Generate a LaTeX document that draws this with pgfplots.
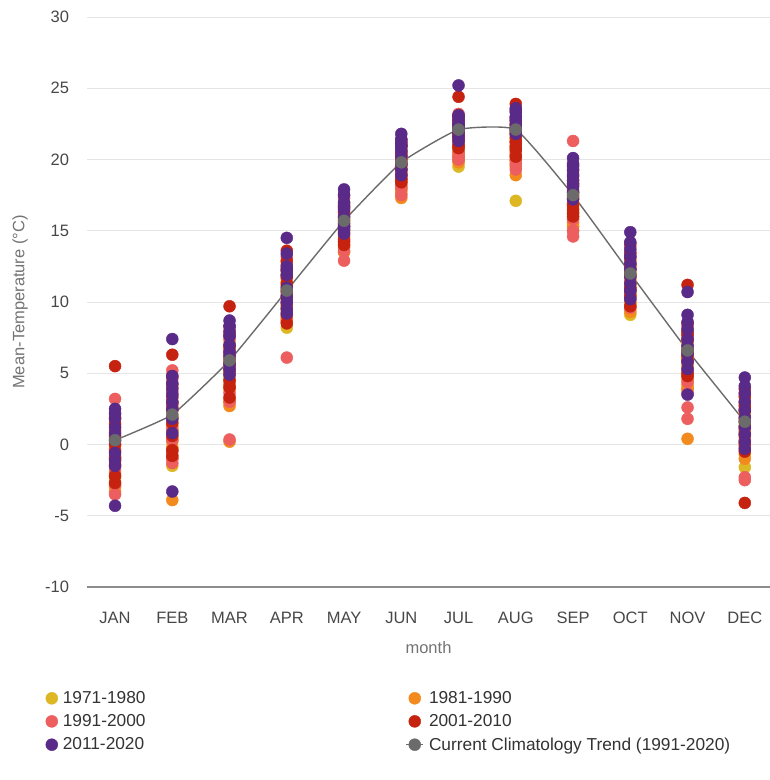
\documentclass[border=0pt]{standalone}
\usepackage{pgfplots}
\pgfplotsset{compat=1.18}
\usepackage{pgfplotstable}
\usepackage{fontspec}
\setmainfont{Liberation Sans}

\definecolor{cSeventies}{HTML}{DDB724}
\definecolor{cEighties}{HTML}{F28A1E}
\definecolor{cNineties}{HTML}{EC5F5E}
\definecolor{cTwoThousands}{HTML}{C52210}
\definecolor{cTens}{HTML}{5A2A88}
\definecolor{cTrend}{HTML}{6B6B6B}
\newcommand\chartfont{\fontsize{16.5}{19.8}\selectfont}
\newcommand\legendfont{\fontsize{17.3}{20.5}\selectfont}

% Monthly mean temperatures, one row per (month index, value); ten years per decade
\pgfplotstableread[row sep=\\]{
m t\\
0 -2.2\\ 0 -1.0\\ 0 0.5\\ 0 -3.0\\ 0 1.2\\ 0 -0.4\\ 0 -1.8\\ 0 0.9\\ 0 -2.6\\ 0 -0.1\\
1 -0.3\\ 1 1.0\\ 1 2.5\\ 1 0.2\\ 1 -1.5\\ 1 3.0\\ 1 1.6\\ 1 -0.8\\ 1 2.0\\ 1 0.6\\
2 3.0\\ 2 5.0\\ 2 6.2\\ 2 4.2\\ 2 7.0\\ 2 3.8\\ 2 5.5\\ 2 2.9\\ 2 6.6\\ 2 4.7\\
3 8.2\\ 3 9.5\\ 3 10.8\\ 3 11.6\\ 3 9.0\\ 3 12.0\\ 3 10.2\\ 3 8.8\\ 3 11.2\\ 3 9.8\\
4 13.5\\ 4 14.8\\ 4 15.6\\ 4 16.3\\ 4 14.2\\ 4 15.1\\ 4 16.8\\ 4 13.9\\ 4 15.9\\ 4 14.5\\
5 17.6\\ 5 18.5\\ 5 19.4\\ 5 20.2\\ 5 18.1\\ 5 19.0\\ 5 20.7\\ 5 18.8\\ 5 19.7\\ 5 17.9\\
6 19.5\\ 6 20.6\\ 6 21.4\\ 6 22.0\\ 6 20.0\\ 6 21.8\\ 6 22.5\\ 6 20.9\\ 6 21.2\\ 6 19.9\\
7 17.1\\ 7 20.5\\ 7 21.3\\ 7 19.6\\ 7 22.0\\ 7 20.9\\ 7 21.7\\ 7 19.9\\ 7 22.5\\ 7 20.2\\
8 15.0\\ 8 16.2\\ 8 17.0\\ 8 15.6\\ 8 18.1\\ 8 16.6\\ 8 17.5\\ 8 15.3\\ 8 16.9\\ 8 17.8\\
9 9.1\\ 9 10.3\\ 9 11.2\\ 9 12.0\\ 9 9.8\\ 9 11.6\\ 9 10.7\\ 9 12.6\\ 9 9.5\\ 9 11.0\\
10 4.0\\ 10 5.3\\ 10 6.2\\ 10 7.5\\ 10 4.8\\ 10 6.9\\ 10 5.6\\ 10 3.8\\ 10 7.1\\ 10 6.0\\
11 -1.6\\ 11 0.2\\ 11 1.0\\ 11 2.3\\ 11 -0.7\\ 11 1.5\\ 11 0.6\\ 11 2.8\\ 11 -0.2\\ 11 1.9\\
}\seventies

\pgfplotstableread[row sep=\\]{
m t\\
0 -2.9\\ 0 -1.5\\ 0 0.2\\ 0 -2.3\\ 0 1.5\\ 0 -0.8\\ 0 -3.3\\ 0 0.7\\ 0 -1.2\\ 0 1.8\\
1 -3.9\\ 1 0.4\\ 1 1.8\\ 1 3.5\\ 1 -1.0\\ 1 2.6\\ 1 0.9\\ 1 4.0\\ 1 -0.2\\ 1 1.3\\
2 0.2\\ 2 2.7\\ 2 5.8\\ 2 4.0\\ 2 6.8\\ 2 3.2\\ 2 7.3\\ 2 5.1\\ 2 4.5\\ 2 6.1\\
3 8.6\\ 3 10.4\\ 3 11.9\\ 3 9.3\\ 3 12.4\\ 3 10.9\\ 3 9.7\\ 3 11.4\\ 3 8.9\\ 3 12.8\\
4 13.5\\ 4 14.6\\ 4 15.4\\ 4 16.6\\ 4 14.0\\ 4 15.8\\ 4 17.0\\ 4 13.8\\ 4 16.1\\ 4 15.2\\
5 17.3\\ 5 18.9\\ 5 19.8\\ 5 20.6\\ 5 18.4\\ 5 21.0\\ 5 19.2\\ 5 17.8\\ 5 20.1\\ 5 18.6\\
6 19.8\\ 6 20.8\\ 6 21.6\\ 6 22.4\\ 6 21.0\\ 6 20.4\\ 6 22.8\\ 6 21.9\\ 6 20.2\\ 6 23.0\\
7 18.9\\ 7 21.0\\ 7 20.3\\ 7 22.2\\ 7 19.5\\ 7 21.6\\ 7 20.8\\ 7 22.7\\ 7 19.9\\ 7 21.3\\
8 15.3\\ 8 16.0\\ 8 17.2\\ 8 18.3\\ 8 15.8\\ 8 16.8\\ 8 17.6\\ 8 18.6\\ 8 16.4\\ 8 15.5\\
9 9.3\\ 9 10.6\\ 9 11.8\\ 9 12.9\\ 9 10.0\\ 9 11.3\\ 9 12.4\\ 9 9.9\\ 9 13.2\\ 9 10.9\\
10 0.4\\ 10 4.2\\ 10 5.5\\ 10 6.7\\ 10 7.4\\ 10 5.0\\ 10 6.3\\ 10 4.6\\ 10 8.0\\ 10 3.9\\
11 -1.0\\ 11 0.5\\ 11 1.7\\ 11 2.9\\ 11 0.0\\ 11 1.2\\ 11 3.3\\ 11 -0.4\\ 11 2.2\\ 11 0.9\\
}\eighties

\pgfplotstableread[row sep=\\]{
m t\\
0 3.2\\ 0 -3.5\\ 0 -2.0\\ 0 -1.6\\ 0 1.0\\ 0 0.4\\ 0 -1.0\\ 0 2.1\\ 0 -0.3\\ 0 -2.8\\
1 5.2\\ 1 -1.3\\ 1 -1.0\\ 1 4.6\\ 1 1.1\\ 1 2.8\\ 1 0.3\\ 1 3.7\\ 1 -0.5\\ 1 1.9\\
2 0.35\\ 2 3.6\\ 2 4.9\\ 2 7.5\\ 2 6.0\\ 2 3.0\\ 2 8.0\\ 2 5.4\\ 2 4.2\\ 2 6.7\\
3 6.1\\ 3 13.2\\ 3 12.6\\ 3 9.6\\ 3 11.1\\ 3 10.0\\ 3 8.7\\ 3 12.2\\ 3 10.5\\ 3 11.7\\
4 12.9\\ 4 14.3\\ 4 15.7\\ 4 16.9\\ 4 13.6\\ 4 15.0\\ 4 17.3\\ 4 14.7\\ 4 16.4\\ 4 15.5\\
5 17.5\\ 5 19.1\\ 5 20.4\\ 5 18.7\\ 5 21.2\\ 5 19.6\\ 5 18.2\\ 5 20.8\\ 5 19.9\\ 5 18.0\\
6 20.2\\ 6 23.2\\ 6 22.6\\ 6 21.3\\ 6 20.5\\ 6 22.0\\ 6 21.7\\ 6 20.0\\ 6 22.9\\ 6 21.1\\
7 19.3\\ 7 20.0\\ 7 21.8\\ 7 20.6\\ 7 22.4\\ 7 19.7\\ 7 21.2\\ 7 23.0\\ 7 20.4\\ 7 22.0\\
8 21.3\\ 8 14.6\\ 8 15.0\\ 8 16.3\\ 8 17.4\\ 8 18.5\\ 8 15.8\\ 8 19.0\\ 8 16.9\\ 8 17.9\\
9 9.6\\ 9 10.9\\ 9 12.2\\ 9 13.5\\ 9 11.4\\ 9 10.2\\ 9 12.8\\ 9 11.7\\ 9 13.9\\ 9 10.5\\
10 2.6\\ 10 1.8\\ 10 4.4\\ 10 5.8\\ 10 6.9\\ 10 7.7\\ 10 5.2\\ 10 8.3\\ 10 6.4\\ 10 3.6\\
11 -2.3\\ 11 -2.5\\ 11 0.3\\ 11 1.1\\ 11 2.5\\ 11 3.6\\ 11 1.8\\ 11 0.8\\ 11 3.0\\ 11 -0.1\\
}\nineties

\pgfplotstableread[row sep=\\]{
m t\\
0 5.5\\ 0 -2.7\\ 0 -1.4\\ 0 0.6\\ 0 -0.9\\ 0 1.4\\ 0 -2.2\\ 0 0.0\\ 0 1.9\\ 0 -0.5\\
1 6.3\\ 1 -0.8\\ 1 0.6\\ 1 3.3\\ 1 4.2\\ 1 2.4\\ 1 1.5\\ 1 -0.4\\ 1 2.9\\ 1 4.8\\
2 9.7\\ 2 4.5\\ 2 3.3\\ 2 6.4\\ 2 7.7\\ 2 5.2\\ 2 8.3\\ 2 4.0\\ 2 6.9\\ 2 5.7\\
3 11.8\\ 3 8.5\\ 3 9.1\\ 3 10.7\\ 3 12.9\\ 3 9.9\\ 3 11.3\\ 3 13.6\\ 3 10.3\\ 3 12.3\\
4 14.0\\ 4 14.4\\ 4 16.3\\ 4 15.3\\ 4 16.8\\ 4 14.9\\ 4 17.5\\ 4 15.9\\ 4 14.2\\ 4 16.6\\
5 18.4\\ 5 19.3\\ 5 20.5\\ 5 21.4\\ 5 18.9\\ 5 20.0\\ 5 21.0\\ 5 19.6\\ 5 18.6\\ 5 20.3\\
6 24.4\\ 6 21.0\\ 6 21.6\\ 6 22.2\\ 6 22.7\\ 6 20.8\\ 6 21.4\\ 6 23.1\\ 6 22.5\\ 6 21.8\\
7 23.9\\ 7 20.7\\ 7 21.5\\ 7 22.8\\ 7 20.2\\ 7 23.4\\ 7 21.9\\ 7 22.5\\ 7 20.9\\ 7 21.2\\
8 16.5\\ 8 16.0\\ 8 17.3\\ 8 18.2\\ 8 16.8\\ 8 19.2\\ 8 17.7\\ 8 18.8\\ 8 16.2\\ 8 19.6\\
9 9.7\\ 9 11.0\\ 9 12.3\\ 9 13.4\\ 9 10.4\\ 9 11.9\\ 9 13.1\\ 9 12.6\\ 9 14.1\\ 9 10.8\\
10 11.2\\ 10 7.7\\ 10 5.0\\ 10 7.9\\ 10 6.6\\ 10 4.8\\ 10 8.5\\ 10 5.9\\ 10 7.3\\ 10 6.2\\
11 -4.1\\ 11 -0.5\\ 11 0.7\\ 11 1.6\\ 11 2.7\\ 11 3.9\\ 11 1.3\\ 11 0.1\\ 11 2.4\\ 11 3.4\\
}\twothousands

\pgfplotstableread[row sep=\\]{
m t\\
0 -4.3\\ 0 2.5\\ 0 1.8\\ 0 1.2\\ 0 0.8\\ 0 -0.6\\ 0 -1.5\\ 0 0.3\\ 0 2.2\\ 0 -1.1\\
1 7.4\\ 1 -3.3\\ 1 0.8\\ 1 4.8\\ 1 3.9\\ 1 3.0\\ 1 2.5\\ 1 1.8\\ 1 4.3\\ 1 3.5\\
2 8.7\\ 2 8.3\\ 2 7.6\\ 2 7.0\\ 2 6.5\\ 2 5.6\\ 2 5.3\\ 2 6.2\\ 2 4.9\\ 2 7.9\\
3 14.5\\ 3 13.4\\ 3 12.5\\ 3 11.9\\ 3 11.0\\ 3 10.4\\ 3 10.0\\ 3 9.5\\ 3 12.2\\ 3 9.2\\
4 17.9\\ 4 17.5\\ 4 17.0\\ 4 16.5\\ 4 16.0\\ 4 15.5\\ 4 15.1\\ 4 14.8\\ 4 16.7\\ 4 15.3\\
5 21.8\\ 5 21.4\\ 5 21.0\\ 5 20.6\\ 5 20.2\\ 5 19.7\\ 5 19.3\\ 5 18.9\\ 5 20.9\\ 5 21.2\\
6 25.2\\ 6 23.1\\ 6 22.8\\ 6 22.5\\ 6 22.2\\ 6 21.9\\ 6 21.6\\ 6 21.3\\ 6 23.0\\ 6 22.4\\
7 23.6\\ 7 23.3\\ 7 23.0\\ 7 22.7\\ 7 22.4\\ 7 22.1\\ 7 21.8\\ 7 23.5\\ 7 22.9\\ 7 22.2\\
8 20.1\\ 8 19.7\\ 8 19.3\\ 8 18.9\\ 8 18.5\\ 8 18.1\\ 8 17.7\\ 8 17.2\\ 8 19.5\\ 8 18.3\\
9 14.9\\ 9 14.2\\ 9 13.7\\ 9 13.2\\ 9 12.7\\ 9 12.3\\ 9 11.8\\ 9 11.3\\ 9 10.8\\ 9 10.2\\
10 10.7\\ 10 9.1\\ 10 8.6\\ 10 8.1\\ 10 7.4\\ 10 6.9\\ 10 6.4\\ 10 5.8\\ 10 5.3\\ 10 3.5\\
11 4.7\\ 11 4.1\\ 11 3.6\\ 11 3.0\\ 11 2.4\\ 11 1.9\\ 11 1.2\\ 11 0.7\\ 11 0.2\\ 11 -0.3\\
}\tens

% 1991-2020 normals per month
\pgfplotstableread[row sep=\\]{
m t\\
0 0.3\\ 1 2.1\\ 2 5.9\\ 3 10.8\\ 4 15.7\\ 5 19.8\\ 6 22.1\\ 7 22.1\\ 8 17.5\\ 9 12.0\\ 10 6.6\\ 11 1.6\\
}\normals

\begin{document}
\begin{tikzpicture}
\useasboundingbox (-87pt,-193pt) rectangle (683pt,587pt);
\begin{axis}[
  at={(0pt,0pt)}, anchor=south west,
  scale only axis, width=683pt, height=570pt,
  xmin=-0.49, xmax=11.44, ymin=-10, ymax=30,
  ytick={-10,-5,...,30},
  xtick={0,...,11},
  xticklabels={JAN,FEB,MAR,APR,MAY,JUN,JUL,AUG,SEP,OCT,NOV,DEC},
  axis x line=bottom, axis y line=left,
  x axis line style={-, draw=black!45, line width=1.2pt},
  y axis line style={draw=none},
  major tick length=0pt,
  ymajorgrids, grid style={draw=black!10, line width=1pt},
  tick label style={font=\chartfont, text=black!72},
  /pgf/number format/assume math mode=true,
  yticklabel style={anchor=east, xshift=-14.5pt},
  xticklabel style={anchor=center, yshift=-31pt},
  xlabel={month}, ylabel={Mean-Temperature (°C)},
  label style={font=\chartfont, text=black!55},
  xlabel style={at={(axis description cs:0.5,-0.107)}, anchor=center},
  ylabel style={at={(axis description cs:-0.098,0.5)}, anchor=center, rotate=0},
  legend columns=2,
  legend cell align=left,
  legend style={at={(-0.065,-0.176)}, anchor=north west, draw=none, fill=none,
    font=\legendfont, text=black!80, row sep=5.5pt,
    /tikz/every odd column/.append style={column sep=3pt},
    /tikz/every even column/.append style={column sep=258pt}},
  scatter dot/.style={only marks, mark=*, mark size=6pt, color=#1},
]
\addplot[scatter dot=cSeventies] table[x=m, y=t] {\seventies};
\addlegendentry{1971-1980}
\addplot[scatter dot=cEighties] table[x=m, y=t] {\eighties};
\addlegendentry{1981-1990}
\addplot[scatter dot=cNineties] table[x=m, y=t] {\nineties};
\addlegendentry{1991-2000}
\addplot[scatter dot=cTwoThousands] table[x=m, y=t] {\twothousands};
\addlegendentry{2001-2010}
\addplot[scatter dot=cTens] table[x=m, y=t] {\tens};
\addlegendentry{2011-2020}
\addplot[color=cTrend, line width=1.4pt, smooth, tension=0.25, mark=*, mark size=6pt,
  mark options={solid, line width=0.4pt}] table[x=m, y=t] {\normals};
\addlegendentry{Current Climatology Trend (1991-2020)}
\end{axis}
\end{tikzpicture}
\end{document}
